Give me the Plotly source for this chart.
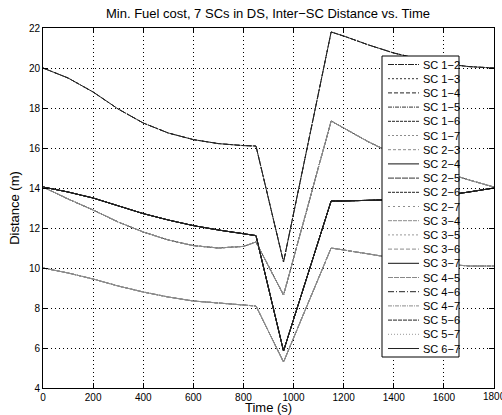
import plotly.graph_objects as go

# ---------------- data ----------------
time_s = [0, 100, 200, 300, 400, 500, 600, 700, 800, 850, 960, 1150, 1200, 1300, 1400, 1500, 1600, 1700, 1800]

dist_a = [20.0, 19.5, 18.8, 17.95, 17.25, 16.75, 16.42, 16.22, 16.12, 16.1, 10.3, 21.8, 21.6, 21.15, 20.75, 20.45, 20.22, 20.07, 20.0]
dist_b = [14.05, 13.8, 13.5, 13.1, 12.72, 12.4, 12.12, 11.9, 11.72, 11.62, 5.85, 13.35, 13.35, 13.38, 13.42, 13.5, 13.62, 13.8, 14.0]
dist_c = [14.05, 13.45, 12.9, 12.3, 11.8, 11.4, 11.12, 11.0, 11.08, 11.3, 8.65, 17.35, 17.0, 16.3, 15.7, 15.2, 14.8, 14.4, 14.05]
dist_d = [10.0, 9.75, 9.45, 9.1, 8.8, 8.55, 8.35, 8.25, 8.15, 8.1, 5.3, 11.0, 10.9, 10.7, 10.5, 10.35, 10.2, 10.1, 10.1]

x_ticks = [0, 200, 400, 600, 800, 1000, 1200, 1400, 1600, 1800]
y_ticks = [4, 6, 8, 10, 12, 14, 16, 18, 20, 22]

pair_labels = ["SC 1\u22122", "SC 1\u22123", "SC 1\u22124", "SC 1\u22125", "SC 1\u22126", "SC 1\u22127",
               "SC 2\u22123", "SC 2\u22124", "SC 2\u22125", "SC 2\u22126", "SC 2\u22127",
               "SC 3\u22124", "SC 3\u22125", "SC 3\u22126", "SC 3\u22127",
               "SC 4\u22125", "SC 4\u22126", "SC 4\u22127",
               "SC 5\u22126", "SC 5\u22127", "SC 6\u22127"]
pair_curve = ["b", "c", "a", "d", "b", "c",
              "d", "b", "c", "a", "d",
              "d", "c", "d", "b",
              "c", "a", "d",
              "b", "c", "b"]

curves = {"a": dist_a, "b": dist_b, "c": dist_c, "d": dist_d}

# line styles (MATLAB-like black/gray cycling)
pair_color = ["#222222", "#333333", "#222222", "#333333", "#222222", "#8c8c8c",
              "#8c8c8c", "#111111", "#333333", "#222222", "#8c8c8c",
              "#8c8c8c", "#999999", "#8c8c8c", "#111111",
              "#888888", "#222222", "#8c8c8c",
              "#222222", "#999999", "#222222"]
pair_dash = ["6px,1px,2px,1px", "2px,2px", "4px,2px", "4px,1px,1px,1px", "3px,1px", "2px,2px",
             "3px,2px", "solid", "6px,1px", "3px,1px", "2px,3px",
             "4px,1px", "2px,2px", "4px,2px", "solid",
             "5px,1px", "6px,2px,1px,2px", "4px,1px,1px,1px",
             "4px,1px", "1px,2px", "solid"]

# ---------------- figure ----------------
W, H = 502, 415
ML, MR, MT, MB = 43, 8, 28, 27
PW, PH = W - ML - MR, H - MT - MB

def px_x(p):
    return (p - ML) / PW

def px_y(p):
    return (H - MB - p) / PH

fig = go.Figure()
for lab, key, col, dsh in zip(pair_labels, pair_curve, pair_color, pair_dash):
    fig.add_trace(go.Scatter(x=time_s, y=curves[key], mode="lines", name=lab,
                             line=dict(color=col, width=1, dash=dsh),
                             showlegend=False))

# manual legend (Plotly's min entry height would not fit 21 rows)
shapes = [dict(type="rect", xref="paper", yref="paper",
               x0=px_x(382), x1=px_x(459), y0=px_y(357), y1=px_y(56),
               fillcolor="white", line=dict(color="black", width=1), layer="above")]
annotations = []
row0, step = 64.5, 14.2
for i, (lab, col, dsh) in enumerate(zip(pair_labels, pair_color, pair_dash)):
    yy = px_y(row0 + i * step)
    shapes.append(dict(type="line", xref="paper", yref="paper",
                       x0=px_x(388), x1=px_x(419), y0=yy, y1=yy,
                       line=dict(color=col, width=1, dash=dsh), layer="above"))
    annotations.append(dict(x=px_x(421), y=yy, xref="paper", yref="paper",
                            text=lab, showarrow=False, xanchor="left", yanchor="middle",
                            font=dict(size=11, color="black")))

font_fam = "Liberation Sans, Arial, Helvetica, sans-serif"

# last x tick label runs off the page edge (as in the original); plotly would hide it
annotations.append(dict(x=x_ticks[-1], y=px_y(396.5), xref="x", yref="paper", text=str(x_ticks[-1]),
                        showarrow=False, xanchor="center", yanchor="middle",
                        font=dict(size=10, color="black", family=font_fam)))
# x-axis title
annotations.append(dict(x=0.5, y=px_y(407), xref="paper", yref="paper", text="Time (s)",
                        showarrow=False, xanchor="center", yanchor="middle",
                        font=dict(size=13, color="black")))

axis_common = dict(showline=True, linecolor="black", linewidth=1, mirror="ticks",
                   ticks="inside", ticklen=5, tickcolor="black",
                   showgrid=True, gridcolor="black", gridwidth=1, griddash="1px,3px",
                   zeroline=False,
                   tickfont=dict(size=10, color="black", family=font_fam))

fig.update_layout(
    width=W, height=H,
    margin=dict(l=ML, r=MR, t=MT, b=MB, autoexpand=False),
    paper_bgcolor="white", plot_bgcolor="white",
    font=dict(family=font_fam, color="black"),
    title=dict(text="Min. Fuel cost, 7 SCs in DS, Inter\u2212SC Distance vs. Time",
               x=268 / W, xanchor="center", y=1 - 13 / H, yanchor="middle",
               font=dict(size=13, color="black")),
    xaxis=dict(range=[0, 1800], tickvals=x_ticks,
               ticktext=[str(v) for v in x_ticks[:-1]] + [""],
               **axis_common),
    yaxis=dict(range=[4, 22], tickvals=y_ticks,
               title=dict(text="Distance (m)", font=dict(size=13), standoff=6), **axis_common),
    shapes=shapes, annotations=annotations,
    showlegend=False,
)

fig.write_html("out.html")
